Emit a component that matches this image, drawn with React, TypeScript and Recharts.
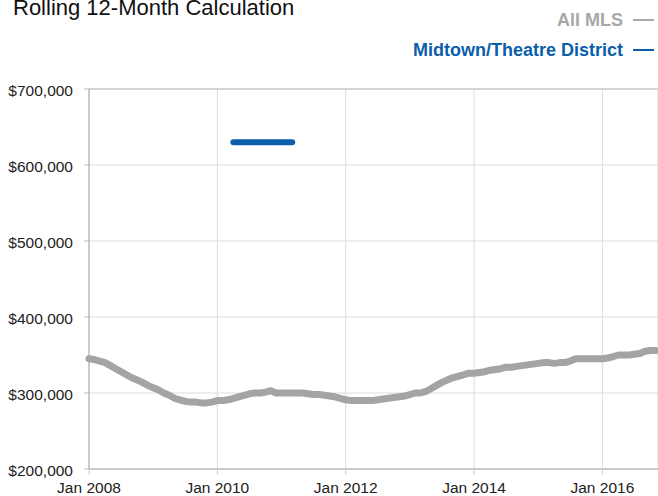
import { LineChart, Line, XAxis, YAxis, CartesianGrid, ReferenceLine } from 'recharts';

// monthly median price, thousands of dollars, Jan 2008 onwards
const allMls = [
  345, 344, 342, 340, 336, 332, 328, 324, 320, 317, 314, 310,
  307, 304, 300, 297, 293, 291, 289, 288, 288, 287, 287, 288,
  290, 290, 291, 293, 295, 297, 299, 300, 300, 301, 303, 300,
  300, 300, 300, 300, 300, 299, 298, 298, 297, 296, 295, 293,
  291, 290, 290, 290, 290, 290, 291, 292, 293, 294, 295, 296,
  298, 300, 300, 302, 306, 310, 314, 317, 320, 322, 324, 326,
  326, 327, 328, 330, 331, 332, 334, 334, 335, 336, 337, 338,
  339, 340, 340, 339, 340, 340, 342, 345, 345, 345, 345, 345,
  345, 346, 348, 350, 350, 350, 351, 352, 355, 356, 356,
];

// Midtown/Theatre District, Apr 2010 - Mar 2011
const midtownStart = 27;
const midtown = [630, 630, 630, 630, 630, 630, 630, 630, 630, 630, 630, 630];

const xTicks = [0, 24, 48, 72, 96];
const xTickLabels = ['Jan 2008', 'Jan 2010', 'Jan 2012', 'Jan 2014', 'Jan 2016'];
const yTicks = [200000, 300000, 400000, 500000, 600000, 700000];

const data = allMls.map((v, i) => {
  const j = i - midtownStart;
  return {
    month: i,
    allMls: v * 1000,
    midtown: j >= 0 && j < midtown.length ? midtown[j] * 1000 : null,
  };
});

const FONT = '"Liberation Sans", Arial, Helvetica, sans-serif';
const GRAY = '#a4a4a4';
const BLUE = '#0b5ea9';
const TICK = { fontSize: 15.5, fill: '#222', fontFamily: FONT };

function LegendRow({ label, color }: { label: string; color: string }) {
  return (
    <div style={{ display: 'flex', alignItems: 'center', justifyContent: 'flex-end', height: 18 }}>
      <span style={{ color, fontWeight: 'bold', fontSize: 18, lineHeight: '18px' }}>{label}</span>
      <span style={{ display: 'inline-block', width: 21, height: 2, background: color, marginLeft: 10 }} />
    </div>
  );
}

export default function App() {
  return (
    <div style={{ position: 'relative', width: 658, height: 496, fontFamily: FONT, overflow: 'hidden' }}>
      <style>{'body{margin:0}'}</style>
      <div style={{ position: 'absolute', left: 13, top: -3, fontSize: 22, lineHeight: '22px', color: '#111' }}>
        Rolling 12-Month Calculation
      </div>
      <div style={{ position: 'absolute', right: 4, top: 11 }}>
        <LegendRow label="All MLS" color="#a8a8a8" />
        <div style={{ height: 12 }} />
        <LegendRow label="Midtown/Theatre District" color={BLUE} />
      </div>
      <LineChart width={658} height={496} data={data} margin={{ top: 89, right: 0, bottom: 0, left: 0 }}>
        <CartesianGrid stroke="#dcdcdc" />
        <XAxis
          dataKey="month"
          type="number"
          domain={[0, 106.4]}
          ticks={xTicks}
          interval={0}
          tickFormatter={(v: number) => xTickLabels[xTicks.indexOf(v)]}
          height={27}
          tickSize={6}
          tickMargin={7}
          axisLine={{ stroke: '#a8a8a8' }}
          tickLine={{ stroke: '#cfcfcf' }}
          tick={TICK}
        />
        <YAxis
          domain={[200000, 700000]}
          ticks={yTicks}
          interval={0}
          width={89}
          tickSize={5}
          tickMargin={11}
          tickFormatter={(v: number) => '$' + v.toLocaleString('en-US')}
          axisLine={{ stroke: '#a8a8a8' }}
          tickLine={{ stroke: '#bdbdbd' }}
          tick={{ ...TICK, dy: 1 }}
        />
        <ReferenceLine y={700000} stroke="#bdbdbd" />
        <Line
          type="linear"
          dataKey="allMls"
          stroke={GRAY}
          strokeWidth={7}
          strokeLinecap="round"
          strokeLinejoin="round"
          dot={false}
          isAnimationActive={false}
        />
        <Line
          type="linear"
          dataKey="midtown"
          stroke={BLUE}
          strokeWidth={6}
          strokeLinecap="round"
          dot={false}
          isAnimationActive={false}
        />
      </LineChart>
    </div>
  );
}
